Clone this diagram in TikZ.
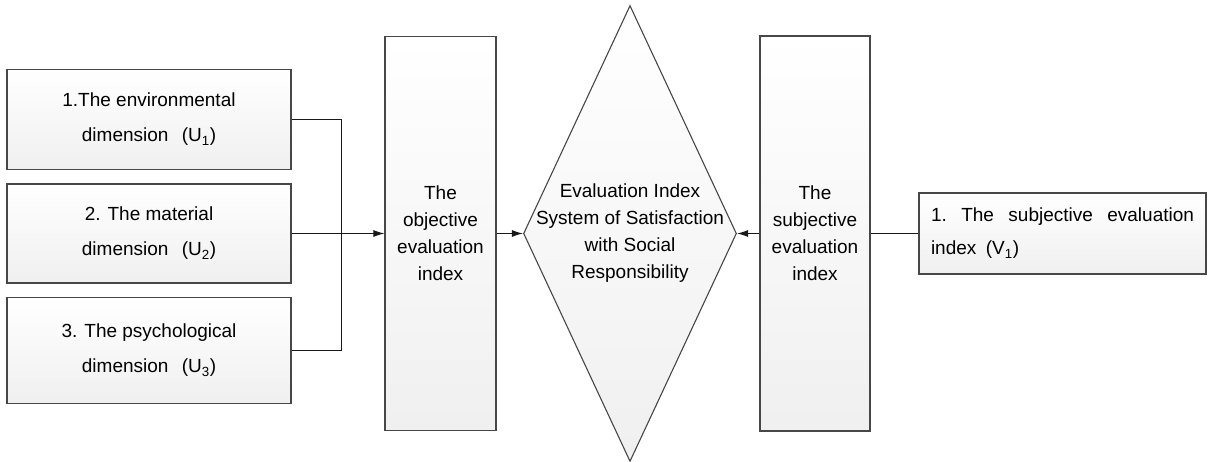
\documentclass[tikz,border=0pt]{standalone}
\usepackage{fontspec}
\setmainfont{Liberation Sans}
\usetikzlibrary{shapes.geometric,arrows.meta}
\begin{document}
\begin{tikzpicture}[x=1pt,y=-1pt,
  boxstyle/.style={draw=black!72, line width=1.1pt, rectangle, inner sep=0pt,
    top color=white, bottom color=black!6, align=center,
    font=\fontsize{19}{27}\selectfont},
  dimbox/.style={boxstyle, minimum width=284pt,
    font=\fontsize{19}{35}\selectfont},
  tallbox/.style={boxstyle, minimum width=111pt, minimum height=394pt},
  conn/.style={draw=black!90, line width=1pt},
  arr/.style={conn, -{Latex[length=11pt,width=7pt]}}
]
\useasboundingbox (0,0) rectangle (1208,462);
\node[dimbox, minimum height=100pt] (u1) at (149,119.5)
  {1.The environmental\\dimension\hspace{0.7em}(U\textsubscript{1})};
\node[dimbox, minimum height=99pt] (u2) at (149,233.5)
  {2. The material\\dimension\hspace{0.7em}(U\textsubscript{2})};
\node[dimbox, minimum height=106pt] (u3) at (149,350.5)
  {3. The psychological\\dimension\hspace{0.7em}(U\textsubscript{3})};
\node[tallbox] (obj) at (440.5,233.5)
  {The\\objective\\evaluation\\index};
\node[draw=black!72, line width=1.1pt, diamond, inner sep=0pt,
  minimum width=213pt, minimum height=456pt,
  top color=white, bottom color=black!6] (sys) at (630,233.5) {};
\node[align=center, font=\fontsize{19}{27}\selectfont] (systext) at (630,233.5)
  {Evaluation Index\\System of Satisfaction\\with Social\\Responsibility};
\node[tallbox, minimum width=110pt, minimum height=395pt] (sub) at (815,233.5)
  {The\\subjective\\evaluation\\index};
\node[boxstyle, minimum width=287pt, minimum height=81pt, align=left,
  font=\fontsize{19}{33}\selectfont] (v1) at (1062.5,233.5)
  {\parbox{263pt}{1.\hfill The\hfill subjective\hfill evaluation\\index\hspace{0.5em}(V\textsubscript{1})}};
\draw[conn] (u1.east) -| (341.5,350.5) -- (u3.east);
\draw[arr] (u2.east) -- (obj.west);
\draw[arr] (obj.east) -- (sys.west);
\draw[arr] (sub.west) -- (sys.east);
\draw[conn] (v1.west) -- (sub.east);
\end{tikzpicture}
\end{document}
